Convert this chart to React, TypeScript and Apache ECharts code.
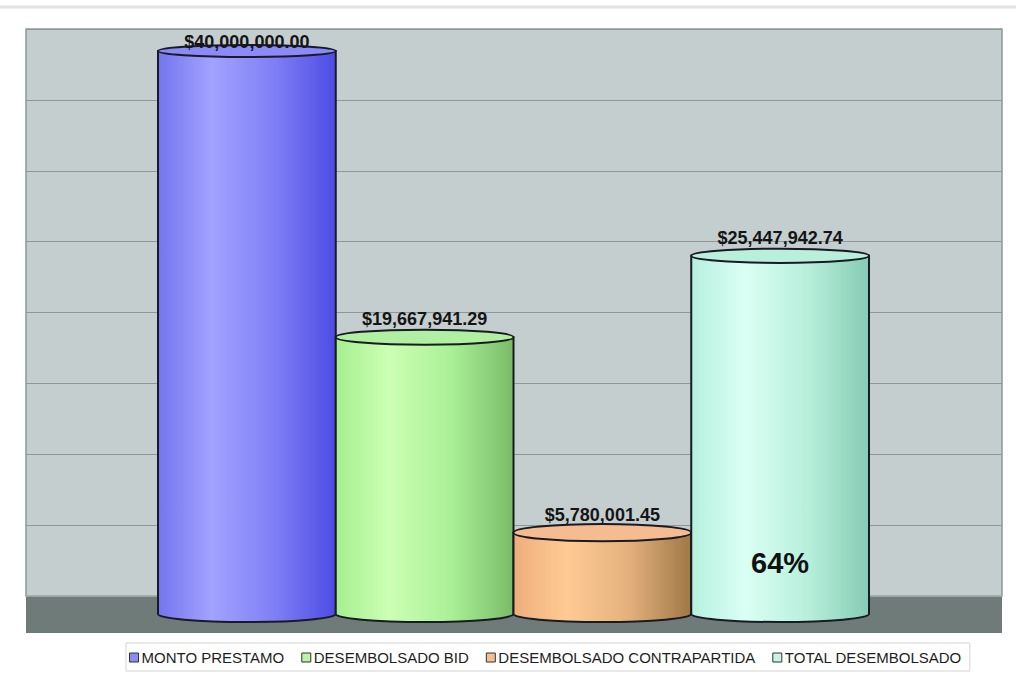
import React, { useEffect, useRef } from "react";
import * as echarts from "echarts";

const seriesNames = ["MONTO PRESTAMO", "DESEMBOLSADO BID", "DESEMBOLSADO CONTRAPARTIDA", "TOTAL DESEMBOLSADO"];
const values = [40000000.0, 19667941.29, 5780001.45, 25447942.74];
const labels = ["$40,000,000.00", "$19,667,941.29", "$5,780,001.45", "$25,447,942.74"];
const bodyColors = [
  ["#7474ee", "#a2a2ff", "#8080f6", "#4c4ce4"],
  ["#a6ee90", "#ccffb4", "#aaf096", "#78bc68"],
  ["#eeae7c", "#ffca94", "#e4b07c", "#9e7846"],
  ["#b6f0de", "#dafff4", "#b8f0dc", "#86ccb4"],
];
const topColors = ["#8a8af8", "#b0f0a0", "#f4bc90", "#b8f0dc"];
const legendColors = ["#8c8cf4", "#bff0a8", "#f2c090", "#c8f4e4"];

const yMax = 40000000;
const yStep = 5000000;

export default function App() {
  const ref = useRef<HTMLDivElement>(null);
  useEffect(() => {
    const chart = echarts.init(ref.current!, null, { renderer: "svg" });
    const pct = Math.round((values[3] / values[0]) * 100) + "%";

    const makeRender = (si: number) => (params: any, api: any) => {
      const cat = api.value(0);
      const v = api.value(1);
      const top = api.coord([cat, v]);
      const base = api.coord([cat, 0]);
      const w = api.size([1, 0])[0];
      const cx = top[0];
      const left = cx - w / 2;
      const right = cx + w / 2;
      const rx = w / 2;
      const ryTop = 6 + ((top[1] - 51) / (614 - 51)) * 3;
      const ryBase = 8;
      const c = bodyColors[si];
      const grad = new echarts.graphic.LinearGradient(0, 0, 1, 0, [
        { offset: 0, color: c[0] },
        { offset: 0.3, color: c[1] },
        { offset: 0.65, color: c[2] },
        { offset: 1, color: c[3] },
      ]);
      const children: any[] = [
        {
          type: "path",
          shape: {
            pathData: `M ${left} ${top[1]} L ${left} ${base[1]} A ${rx} ${ryBase} 0 0 0 ${right} ${base[1]} L ${right} ${top[1]} Z`,
          },
          style: { fill: grad, stroke: "#1a1a24", lineWidth: 2 },
        },
        {
          type: "ellipse",
          shape: { cx, cy: top[1], rx, ry: ryTop },
          style: { fill: topColors[si], stroke: "#1a1a24", lineWidth: 2 },
        },
        {
          type: "text",
          style: {
            x: cx,
            y: Math.max(top[1] - 18, 42),
            text: labels[si],
            align: "center",
            verticalAlign: "middle",
            font: "bold 18px 'Liberation Sans', Arial, sans-serif",
            fill: "#151515",
          },
        },
      ];
      if (si === 3) {
        children.push({
          type: "text",
          style: {
            x: cx,
            y: base[1] - 51,
            text: pct,
            align: "center",
            verticalAlign: "middle",
            font: "bold 29px 'Liberation Sans', Arial, sans-serif",
            fill: "#111",
          },
        });
      }
      return { type: "group", children };
    };

    const option: any = {
      animation: false,
      backgroundColor: "#ffffff",
      grid: [
        {
          left: 26,
          right: 14,
          top: 29,
          bottom: 676 - 596,
          show: true,
          backgroundColor: "#c4cece",
          borderColor: "#8e9898",
          borderWidth: 1.5,
        },
        {
          left: 158,
          right: 1016 - 869,
          top: 51,
          bottom: 676 - 614,
        },
      ],
      xAxis: [
        { gridIndex: 0, type: "category", data: [""], show: false },
        { gridIndex: 1, type: "category", data: seriesNames, show: false, boundaryGap: true },
      ],
      yAxis: [
        {
          gridIndex: 0,
          type: "value",
          min: 0,
          max: yMax,
          interval: yStep,
          axisLabel: { show: false },
          axisLine: { show: false },
          axisTick: { show: false },
          splitLine: { show: true, lineStyle: { color: "#8e9898", width: 1.2 } },
        },
        { gridIndex: 1, type: "value", min: 0, max: yMax, show: false },
      ],
      legend: {
        left: 126,
        top: 643,
        padding: [7, 8, 6, 3],
        borderColor: "#d4d4d4",
        borderWidth: 1,
        itemGap: 17,
        itemWidth: 9,
        itemHeight: 9,
        icon: "rect",
        textStyle: { fontFamily: "'Liberation Sans', Arial, sans-serif", fontSize: 15, color: "#1e1e1e", padding: [0, 0, 0, -2] },
        data: seriesNames.map((n, i) => ({
          name: n,
          itemStyle: { color: legendColors[i], borderColor: "#333", borderWidth: 1 },
        })),
      },
      graphic: [
        {
          type: "line",
          shape: { x1: 0, y1: 7, x2: 1016, y2: 7 },
          style: { stroke: "#e2e2e2", lineWidth: 3 },
          z: 1,
        },
        {
          type: "rect",
          shape: { x: 26, y: 596, width: 976, height: 37 },
          style: { fill: "#6e7b79" },
          z: 1,
        },
        {
          type: "line",
          shape: { x1: 26, y1: 596, x2: 1002, y2: 596 },
          style: { stroke: "#a9b3b3", lineWidth: 1.5 },
          z: 1,
        },
      ],
      series: seriesNames.map((n, i) => ({
        name: n,
        type: "custom",
        xAxisIndex: 1,
        yAxisIndex: 1,
        clip: false,
        z: 5,
        itemStyle: { color: legendColors[i] },
        renderItem: makeRender(i),
        data: [[i, values[i]]],
      })),
    };
    chart.setOption(option);
    return () => chart.dispose();
  }, []);
  return <div ref={ref} style={{ position: "fixed", left: 0, top: 0, width: 1016, height: 676 }} />;
}
